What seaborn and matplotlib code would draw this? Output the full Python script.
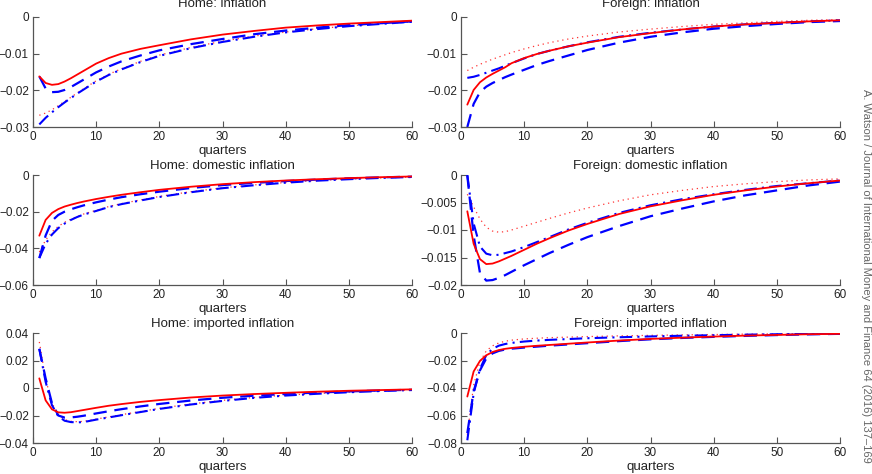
import matplotlib
matplotlib.use("Agg")
import matplotlib.pyplot as plt
import seaborn as sns
import pandas as pd
from matplotlib.ticker import FuncFormatter

# ---------------- data ----------------
quarters = [1, 2, 3, 4, 5, 6, 7, 8, 10, 12, 14, 17, 20, 25, 30, 35, 40, 45, 50, 55, 60]

titles = ["Home: inflation", "Foreign: inflation",
          "Home: domestic inflation", "Foreign: domestic inflation",
          "Home: imported inflation", "Foreign: imported inflation"]

# Home: inflation
h_inf_red = [-0.0162, -0.0180, -0.0185, -0.0183, -0.0176, -0.0167, -0.0157, -0.0147, -0.0127, -0.0112, -0.0100,
             -0.0087, -0.0077, -0.0061, -0.0048, -0.0038, -0.0029, -0.0023, -0.0018, -0.0014, -0.0010]
h_inf_dash = [-0.0162, -0.0195, -0.0205, -0.0204, -0.0199, -0.0191, -0.0181, -0.0171, -0.0151, -0.0135, -0.0121,
              -0.0105, -0.0091, -0.0074, -0.0060, -0.0047, -0.0037, -0.0029, -0.0022, -0.0017, -0.0012]
h_inf_dot = [-0.0268, -0.0262, -0.0253, -0.0242, -0.0230, -0.0219, -0.0207, -0.0196, -0.0174, -0.0156, -0.0141,
             -0.0121, -0.0104, -0.0083, -0.0066, -0.0052, -0.0041, -0.0032, -0.0024, -0.0018, -0.0013]
h_inf_dashdot = [-0.0293, -0.0275, -0.0260, -0.0246, -0.0233, -0.0221, -0.0209, -0.0198, -0.0176, -0.0158, -0.0143,
                 -0.0123, -0.0106, -0.0085, -0.0068, -0.0054, -0.0042, -0.0033, -0.0025, -0.0019, -0.0013]

# Foreign: inflation
f_inf_red = [-0.0239, -0.0199, -0.0178, -0.0165, -0.0155, -0.0146, -0.0137, -0.0126, -0.0112, -0.0101, -0.0092,
             -0.0080, -0.0070, -0.0055, -0.0044, -0.0034, -0.0026, -0.0020, -0.0016, -0.0012, -0.0009]
f_inf_dash = [-0.0300, -0.0237, -0.0205, -0.0190, -0.0180, -0.0172, -0.0164, -0.0157, -0.0144, -0.0131, -0.0120,
              -0.0105, -0.0090, -0.0070, -0.0054, -0.0042, -0.0032, -0.0025, -0.0019, -0.0014, -0.0011]
f_inf_dot = [-0.0146, -0.0137, -0.0129, -0.0122, -0.0115, -0.0109, -0.0103, -0.0097, -0.0087, -0.0078, -0.0070,
             -0.0060, -0.0052, -0.0041, -0.0033, -0.0026, -0.0020, -0.0016, -0.0012, -0.0009, -0.0007]
f_inf_dashdot = [-0.0166, -0.0163, -0.0158, -0.0152, -0.0146, -0.0140, -0.0133, -0.0126, -0.0113, -0.0101, -0.0092,
                 -0.0080, -0.0069, -0.0054, -0.0043, -0.0034, -0.0026, -0.0020, -0.0016, -0.0012, -0.0009]

# Home: domestic inflation
h_dom_red = [-0.0331, -0.0245, -0.0207, -0.0186, -0.0172, -0.0162, -0.0153, -0.0145, -0.0131, -0.0119, -0.0108,
             -0.0094, -0.0081, -0.0064, -0.0050, -0.0039, -0.0030, -0.0023, -0.0017, -0.0012, -0.0008]
h_dom_dash = [-0.0453, -0.0330, -0.0250, -0.0218, -0.0200, -0.0187, -0.0176, -0.0166, -0.0149, -0.0134, -0.0121,
              -0.0105, -0.0091, -0.0071, -0.0055, -0.0043, -0.0033, -0.0025, -0.0018, -0.0013, -0.0009]
h_dom_dot = [-0.0420, -0.0355, -0.0310, -0.0280, -0.0258, -0.0241, -0.0226, -0.0213, -0.0193, -0.0172, -0.0156,
             -0.0136, -0.0117, -0.0091, -0.0070, -0.0054, -0.0041, -0.0030, -0.0022, -0.0016, -0.0011]
h_dom_dashdot = [-0.0453, -0.0375, -0.0325, -0.0290, -0.0265, -0.0245, -0.0229, -0.0216, -0.0196, -0.0175, -0.0159,
                 -0.0139, -0.0120, -0.0094, -0.0072, -0.0056, -0.0042, -0.0031, -0.0023, -0.0016, -0.0011]

# Foreign: domestic inflation
f_dom_red = [-0.0066, -0.0125, -0.0153, -0.0162, -0.0161, -0.0157, -0.0152, -0.0147, -0.0136, -0.0125, -0.0115,
             -0.0101, -0.0089, -0.0071, -0.0057, -0.0046, -0.0036, -0.0028, -0.0021, -0.0015, -0.0010]
f_dom_dash = [-0.0001, -0.0110, -0.0178, -0.0192, -0.0191, -0.0187, -0.0182, -0.0176, -0.0164, -0.0153, -0.0142,
              -0.0127, -0.0113, -0.0093, -0.0075, -0.0061, -0.0048, -0.0037, -0.0028, -0.0019, -0.0012]
f_dom_dot = [-0.0035, -0.0058, -0.0080, -0.0095, -0.0102, -0.0104, -0.0103, -0.0100, -0.0093, -0.0086, -0.0079,
             -0.0069, -0.0060, -0.0047, -0.0036, -0.0028, -0.0021, -0.0016, -0.0012, -0.0009, -0.0007]
f_dom_dashdot = [0.0000, -0.0088, -0.0130, -0.0143, -0.0146, -0.0145, -0.0142, -0.0139, -0.0131, -0.0122, -0.0113,
                 -0.0099, -0.0087, -0.0069, -0.0055, -0.0044, -0.0035, -0.0027, -0.0020, -0.0015, -0.0010]

# Home: imported inflation
h_imp_red = [0.0070, -0.0090, -0.0155, -0.0177, -0.0180, -0.0176, -0.0168, -0.0160, -0.0144, -0.0129, -0.0117,
             -0.0101, -0.0088, -0.0069, -0.0055, -0.0044, -0.0035, -0.0027, -0.0020, -0.0015, -0.0010]
h_imp_dash = [0.0285, 0.0070, -0.0110, -0.0200, -0.0215, -0.0214, -0.0209, -0.0202, -0.0185, -0.0169, -0.0154,
              -0.0134, -0.0116, -0.0091, -0.0071, -0.0056, -0.0043, -0.0033, -0.0025, -0.0018, -0.0013]
h_imp_dot = [0.0335, 0.0065, -0.0110, -0.0195, -0.0230, -0.0242, -0.0245, -0.0243, -0.0226, -0.0210, -0.0194,
             -0.0171, -0.0148, -0.0116, -0.0090, -0.0069, -0.0052, -0.0040, -0.0029, -0.0020, -0.0014]
h_imp_dashdot = [0.0285, 0.0045, -0.0125, -0.0205, -0.0238, -0.0248, -0.0250, -0.0248, -0.0230, -0.0214, -0.0198,
                 -0.0175, -0.0152, -0.0120, -0.0094, -0.0072, -0.0055, -0.0042, -0.0031, -0.0022, -0.0015]

# Foreign: imported inflation
f_imp_red = [-0.0462, -0.0280, -0.0203, -0.0162, -0.0138, -0.0124, -0.0115, -0.0109, -0.0100, -0.0093, -0.0087,
             -0.0078, -0.0069, -0.0055, -0.0043, -0.0034, -0.0026, -0.0019, -0.0014, -0.0009, -0.0006]
f_imp_dash = [-0.0728, -0.0424, -0.0272, -0.0185, -0.0148, -0.0130, -0.0120, -0.0114, -0.0106, -0.0099, -0.0092,
              -0.0083, -0.0074, -0.0059, -0.0046, -0.0036, -0.0028, -0.0021, -0.0015, -0.0010, -0.0006]
f_imp_dot = [-0.0740, -0.0380, -0.0210, -0.0130, -0.0093, -0.0072, -0.0060, -0.0052, -0.0043, -0.0038, -0.0034,
             -0.0030, -0.0026, -0.0021, -0.0017, -0.0014, -0.0011, -0.0008, -0.0006, -0.0005, -0.0003]
f_imp_dashdot = [-0.0780, -0.0440, -0.0262, -0.0160, -0.0115, -0.0092, -0.0080, -0.0072, -0.0062, -0.0055, -0.0050,
                 -0.0044, -0.0038, -0.0031, -0.0025, -0.0020, -0.0016, -0.0012, -0.0009, -0.0006, -0.0004]

panels = [
    (h_inf_red, h_inf_dash, h_inf_dot, h_inf_dashdot),
    (f_inf_red, f_inf_dash, f_inf_dot, f_inf_dashdot),
    (h_dom_red, h_dom_dash, h_dom_dot, h_dom_dashdot),
    (f_dom_red, f_dom_dash, f_dom_dot, f_dom_dashdot),
    (h_imp_red, h_imp_dash, h_imp_dot, h_imp_dashdot),
    (f_imp_red, f_imp_dash, f_imp_dot, f_imp_dashdot),
]

ylims = [(-0.03, 0), (-0.03, 0), (-0.06, 0), (-0.02, 0), (-0.04, 0.04), (-0.08, 0)]
yticks = [[-0.03, -0.02, -0.01, 0],
          [-0.03, -0.02, -0.01, 0],
          [-0.06, -0.04, -0.02, 0],
          [-0.02, -0.015, -0.01, -0.005, 0],
          [-0.04, -0.02, 0, 0.02, 0.04],
          [-0.08, -0.06, -0.04, -0.02, 0]]
xticks = [0, 10, 20, 30, 40, 50, 60]

side_text = "A. Watson / Journal of International Money and Finance 64 (2016) 137–169"

# ---------------- style ----------------
sns.set_theme(style="white")
plt.rcParams['font.family'] = ['Liberation Sans', 'DejaVu Sans']
plt.rcParams['axes.unicode_minus'] = True

W, H = 872, 474
fig = plt.figure(figsize=(W / 100, H / 100), dpi=100)

col_x = [33, 461]
ax_w = 379
row_top = [17, 175, 333]
ax_h = 110

styles = [
    dict(color="#ff0000", linestyle="-", linewidth=1.3),
    dict(color="#0000ff", linestyle=(0, (6, 3.5)), linewidth=1.6),
    dict(color="#ff3333", linestyle=(0, (1, 3)), linewidth=0.9),
    dict(color="#0000ff", linestyle=(0, (6, 2.5, 1, 2.5)), linewidth=1.5),
]
draw_order = [2, 3, 1, 0]


def fmt(v, pos):
    if abs(v) < 1e-12:
        return "0"
    return f"{v:g}".replace("-", "\u2212")


for i, series in enumerate(panels):
    r, c = divmod(i, 2)
    left = col_x[c] / W
    bottom = 1 - (row_top[r] + ax_h) / H
    ax = fig.add_axes([left, bottom, ax_w / W, ax_h / H])
    df = pd.DataFrame({"quarter": quarters,
                       "red": series[0], "dash": series[1],
                       "dot": series[2], "dashdot": series[3]})
    names = ["red", "dash", "dot", "dashdot"]
    for k in draw_order:
        sns.lineplot(data=df, x="quarter", y=names[k], ax=ax, **styles[k])
    ax.set_xlim(0, 60)
    ax.set_ylim(*ylims[i])
    ax.set_xticks(xticks)
    ax.set_yticks(yticks[i])
    ax.yaxis.set_major_formatter(FuncFormatter(fmt))
    ax.set_ylabel("")
    ax.set_xlabel("quarters", fontsize=9.5, color="#222222", labelpad=1)
    ax.set_title(titles[i], fontsize=9.5, color="#222222", pad=7 if r == 0 else 4)
    for s in ["top", "right"]:
        ax.spines[s].set_visible(False)
    for s in ["left", "bottom"]:
        ax.spines[s].set_color("#555555")
        ax.spines[s].set_linewidth(0.9)
    ax.tick_params(axis="both", which="major", direction="in", length=4, width=0.8,
                   color="#555555", labelsize=8.5, labelcolor="#222222", pad=3,
                   left=True, bottom=True)

fig.text(866 / W, 1 - 276 / H, side_text, rotation=270, ha="center", va="center",
         fontsize=8.0, color="#666666")

fig.savefig("out.png", dpi=100)
